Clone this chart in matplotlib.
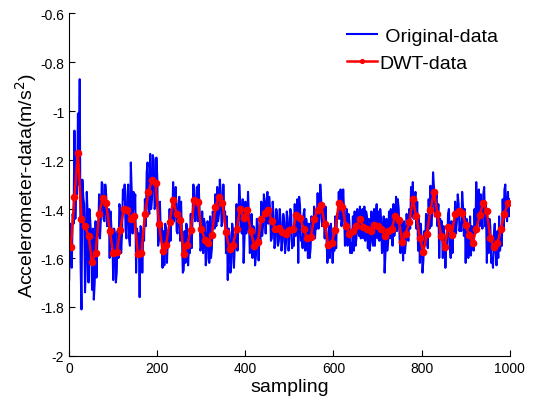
import numpy as np
import matplotlib
matplotlib.use('Agg')
import matplotlib.pyplot as plt
from matplotlib.ticker import FormatStrFormatter

plt.rcParams['font.family'] = ['Liberation Sans', 'DejaVu Sans']

# raw accelerometer samples, read every 2 samples (0..1000)
orig_vals = [
    -1.69, -1.46, -1.50, -1.64, -1.42, -1.46, -1.08, -1.44, -1.30, -1.34, -1.01, -1.30, -0.87, -1.62, -1.81, -1.28, -1.35, -1.38, -1.74, -1.62,
    -1.33, -1.42, -1.70, -1.40, -1.45, -1.52, -1.73, -1.48, -1.77, -1.70, -1.45, -1.68, -1.52, -1.50, -1.34, -1.52, -1.44, -1.29, -1.30, -1.44,
    -1.45, -1.30, -1.34, -1.47, -1.42, -1.40, -1.60, -1.41, -1.48, -1.50, -1.69, -1.48, -1.50, -1.70, -1.66, -1.49, -1.60, -1.38, -1.40, -1.58,
    -1.50, -1.32, -1.36, -1.30, -1.48, -1.52, -1.35, -1.30, -1.52, -1.55, -1.21, -1.33, -1.50, -1.33, -1.40, -1.34, -1.66, -1.48, -1.52, -1.50,
    -1.76, -1.47, -1.48, -1.66, -1.50, -1.53, -1.36, -1.47, -1.25, -1.21, -1.40, -1.42, -1.175, -1.40, -1.36, -1.18, -1.20, -1.40, -1.38, -1.19,
    -1.27, -1.55, -1.52, -1.37, -1.50, -1.47, -1.64, -1.49, -1.63, -1.46, -1.48, -1.62, -1.52, -1.55, -1.40, -1.53, -1.43, -1.45, -1.29, -1.45,
    -1.36, -1.31, -1.49, -1.50, -1.38, -1.35, -1.53, -1.37, -1.50, -1.66, -1.65, -1.49, -1.62, -1.46, -1.49, -1.63, -1.55, -1.58, -1.42, -1.56,
    -1.44, -1.30, -1.37, -1.45, -1.36, -1.31, -1.45, -1.30, -1.40, -1.57, -1.55, -1.41, -1.58, -1.44, -1.46, -1.63, -1.60, -1.45, -1.47, -1.62,
    -1.43, -1.60, -1.56, -1.41, -1.46, -1.48, -1.34, -1.47, -1.31, -1.45, -1.42, -1.28, -1.33, -1.47, -1.45, -1.30, -1.42, -1.41, -1.58, -1.43,
    -1.69, -1.48, -1.50, -1.66, -1.62, -1.46, -1.49, -1.64, -1.55, -1.56, -1.38, -1.57, -1.47, -1.30, -1.36, -1.48, -1.50, -1.36, -1.62, -1.52,
    -1.37, -1.50, -1.47, -1.33, -1.43, -1.58, -1.56, -1.42, -1.60, -1.47, -1.48, -1.63, -1.59, -1.44, -1.46, -1.61, -1.50, -1.53, -1.37, -1.51,
    -1.47, -1.34, -1.38, -1.50, -1.37, -1.33, -1.46, -1.35, -1.40, -1.53, -1.52, -1.37, -1.43, -1.56, -1.54, -1.40, -1.42, -1.55, -1.53, -1.40,
    -1.45, -1.57, -1.53, -1.42, -1.45, -1.58, -1.54, -1.41, -1.44, -1.57, -1.52, -1.40, -1.42, -1.56, -1.53, -1.55, -1.38, -1.51, -1.47, -1.36,
    -1.62, -1.35, -1.39, -1.53, -1.52, -1.56, -1.42, -1.40, -1.57, -1.44, -1.47, -1.60, -1.46, -1.60, -1.56, -1.43, -1.49, -1.52, -1.39, -1.52,
    -1.45, -1.48, -1.335, -1.48, -1.44, -1.30, -1.36, -1.47, -1.40, -1.38, -1.52, -1.39, -1.50, -1.62, -1.58, -1.47, -1.60, -1.46, -1.50, -1.62,
    -1.55, -1.57, -1.43, -1.56, -1.42, -1.44, -1.33, -1.44, -1.32, -1.47, -1.44, -1.32, -1.41, -1.55, -1.53, -1.40, -1.55, -1.42, -1.45, -1.58,
    -1.54, -1.58, -1.43, -1.57, -1.41, -1.55, -1.52, -1.40, -1.49, -1.51, -1.39, -1.52, -1.42, -1.40, -1.52, -1.39, -1.53, -1.41, -1.43, -1.56,
    -1.44, -1.57, -1.54, -1.41, -1.51, -1.55, -1.40, -1.55, -1.43, -1.38, -1.52, -1.41, -1.53, -1.40, -1.44, -1.58, -1.56, -1.43, -1.66, -1.58,
    -1.44, -1.57, -1.53, -1.41, -1.52, -1.40, -1.43, -1.55, -1.38, -1.51, -1.47, -1.35, -1.49, -1.36, -1.40, -1.52, -1.58, -1.45, -1.50, -1.61,
    -1.45, -1.58, -1.54, -1.42, -1.50, -1.53, -1.40, -1.48, -1.31, -1.43, -1.29, -1.44, -1.38, -1.33, -1.48, -1.37, -1.57, -1.44, -1.62, -1.46,
    -1.52, -1.66, -1.61, -1.49, -1.55, -1.42, -1.45, -1.56, -1.36, -1.48, -1.305, -1.47, -1.40, -1.25, -1.31, -1.43, -1.37, -1.33, -1.47, -1.38,
    -1.60, -1.44, -1.47, -1.45, -1.60, -1.47, -1.51, -1.64, -1.53, -1.56, -1.42, -1.40, -1.55, -1.60, -1.45, -1.58, -1.46, -1.50, -1.37, -1.50,
    -1.45, -1.34, -1.38, -1.49, -1.46, -1.49, -1.33, -1.39, -1.51, -1.40, -1.62, -1.44, -1.46, -1.60, -1.56, -1.43, -1.59, -1.47, -1.49, -1.57,
    -1.40, -1.50, -1.29, -1.46, -1.37, -1.32, -1.47, -1.34, -1.42, -1.48, -1.34, -1.31, -1.47, -1.38, -1.62, -1.46, -1.58, -1.44, -1.47, -1.62,
    -1.60, -1.64, -1.50, -1.46, -1.58, -1.63, -1.49, -1.60, -1.43, -1.57, -1.52, -1.55, -1.36, -1.48, -1.32, -1.30, -1.42, -1.45, -1.33, -1.43,
    -1.36,
]

# DWT approximation, one point every 8 samples
dwt_vals = [
    -1.555, -1.35, -1.17, -1.44, -1.47, -1.51, -1.615, -1.58, -1.42, -1.355,
    -1.375, -1.49, -1.58, -1.575, -1.485, -1.40, -1.405, -1.44, -1.43, -1.585,
    -1.58, -1.42, -1.33, -1.28, -1.295, -1.46, -1.57, -1.545, -1.455, -1.365,
    -1.42, -1.445, -1.585, -1.545, -1.485, -1.365, -1.37, -1.48, -1.525, -1.54,
    -1.505, -1.39, -1.35, -1.375, -1.495, -1.565, -1.545, -1.48, -1.40, -1.435,
    -1.405, -1.49, -1.55, -1.535, -1.44, -1.415, -1.405, -1.45, -1.48, -1.478,
    -1.495, -1.50, -1.485, -1.483, -1.425, -1.435, -1.48, -1.52, -1.515, -1.44,
    -1.405, -1.385, -1.46, -1.545, -1.54, -1.485, -1.375, -1.39, -1.47, -1.50,
    -1.49, -1.47, -1.44, -1.475, -1.48, -1.49, -1.465, -1.47, -1.48, -1.51,
    -1.49, -1.48, -1.43, -1.445, -1.535, -1.50, -1.455, -1.36, -1.43, -1.52,
    -1.575, -1.50, -1.405, -1.33, -1.42, -1.51, -1.555, -1.475, -1.505, -1.42,
    -1.41, -1.415, -1.465, -1.505, -1.54, -1.48, -1.425, -1.375, -1.41, -1.52,
    -1.555, -1.54, -1.48, -1.42, -1.375,
]

orig_x = np.arange(len(orig_vals)) * 2
dwt_x = 4 + np.arange(len(dwt_vals)) * 8

fig = plt.figure(figsize=(5.36, 4.02), dpi=100)
ax = fig.add_axes([0.129, 0.112, 0.822, 0.853])

ax.plot(orig_x, orig_vals, color='#0000ff', lw=1.5, label=' Original-data')
ax.plot(dwt_x, dwt_vals, '-', marker='o', color='#ff0000', lw=1.8, ms=4.5, label='DWT-data')

ax.set_xlim(0, 1000)
ax.set_ylim(-2, -0.6)
ax.set_xticks(np.arange(0, 1001, 200))
ax.set_yticks(np.arange(-2, -0.59, 0.2))
ax.yaxis.set_major_formatter(FormatStrFormatter('%g'))
ax.tick_params(direction='in', length=4, labelsize=10, top=False, right=False)
ax.spines['top'].set_visible(False)
ax.spines['right'].set_visible(False)

ax.set_xlabel('sampling', fontsize=14, labelpad=2)
ax.set_ylabel('Accelerometer-data(m/s$^2$)', fontsize=14, labelpad=1)

fig.legend(loc='upper left', bbox_to_anchor=(0.647, 0.93), frameon=False,
           fontsize=14, handlelength=1.55, handletextpad=0.15, labelspacing=0.5,
           borderpad=0, borderaxespad=0, markerscale=0.6)

fig.savefig('out.png', dpi=100)
